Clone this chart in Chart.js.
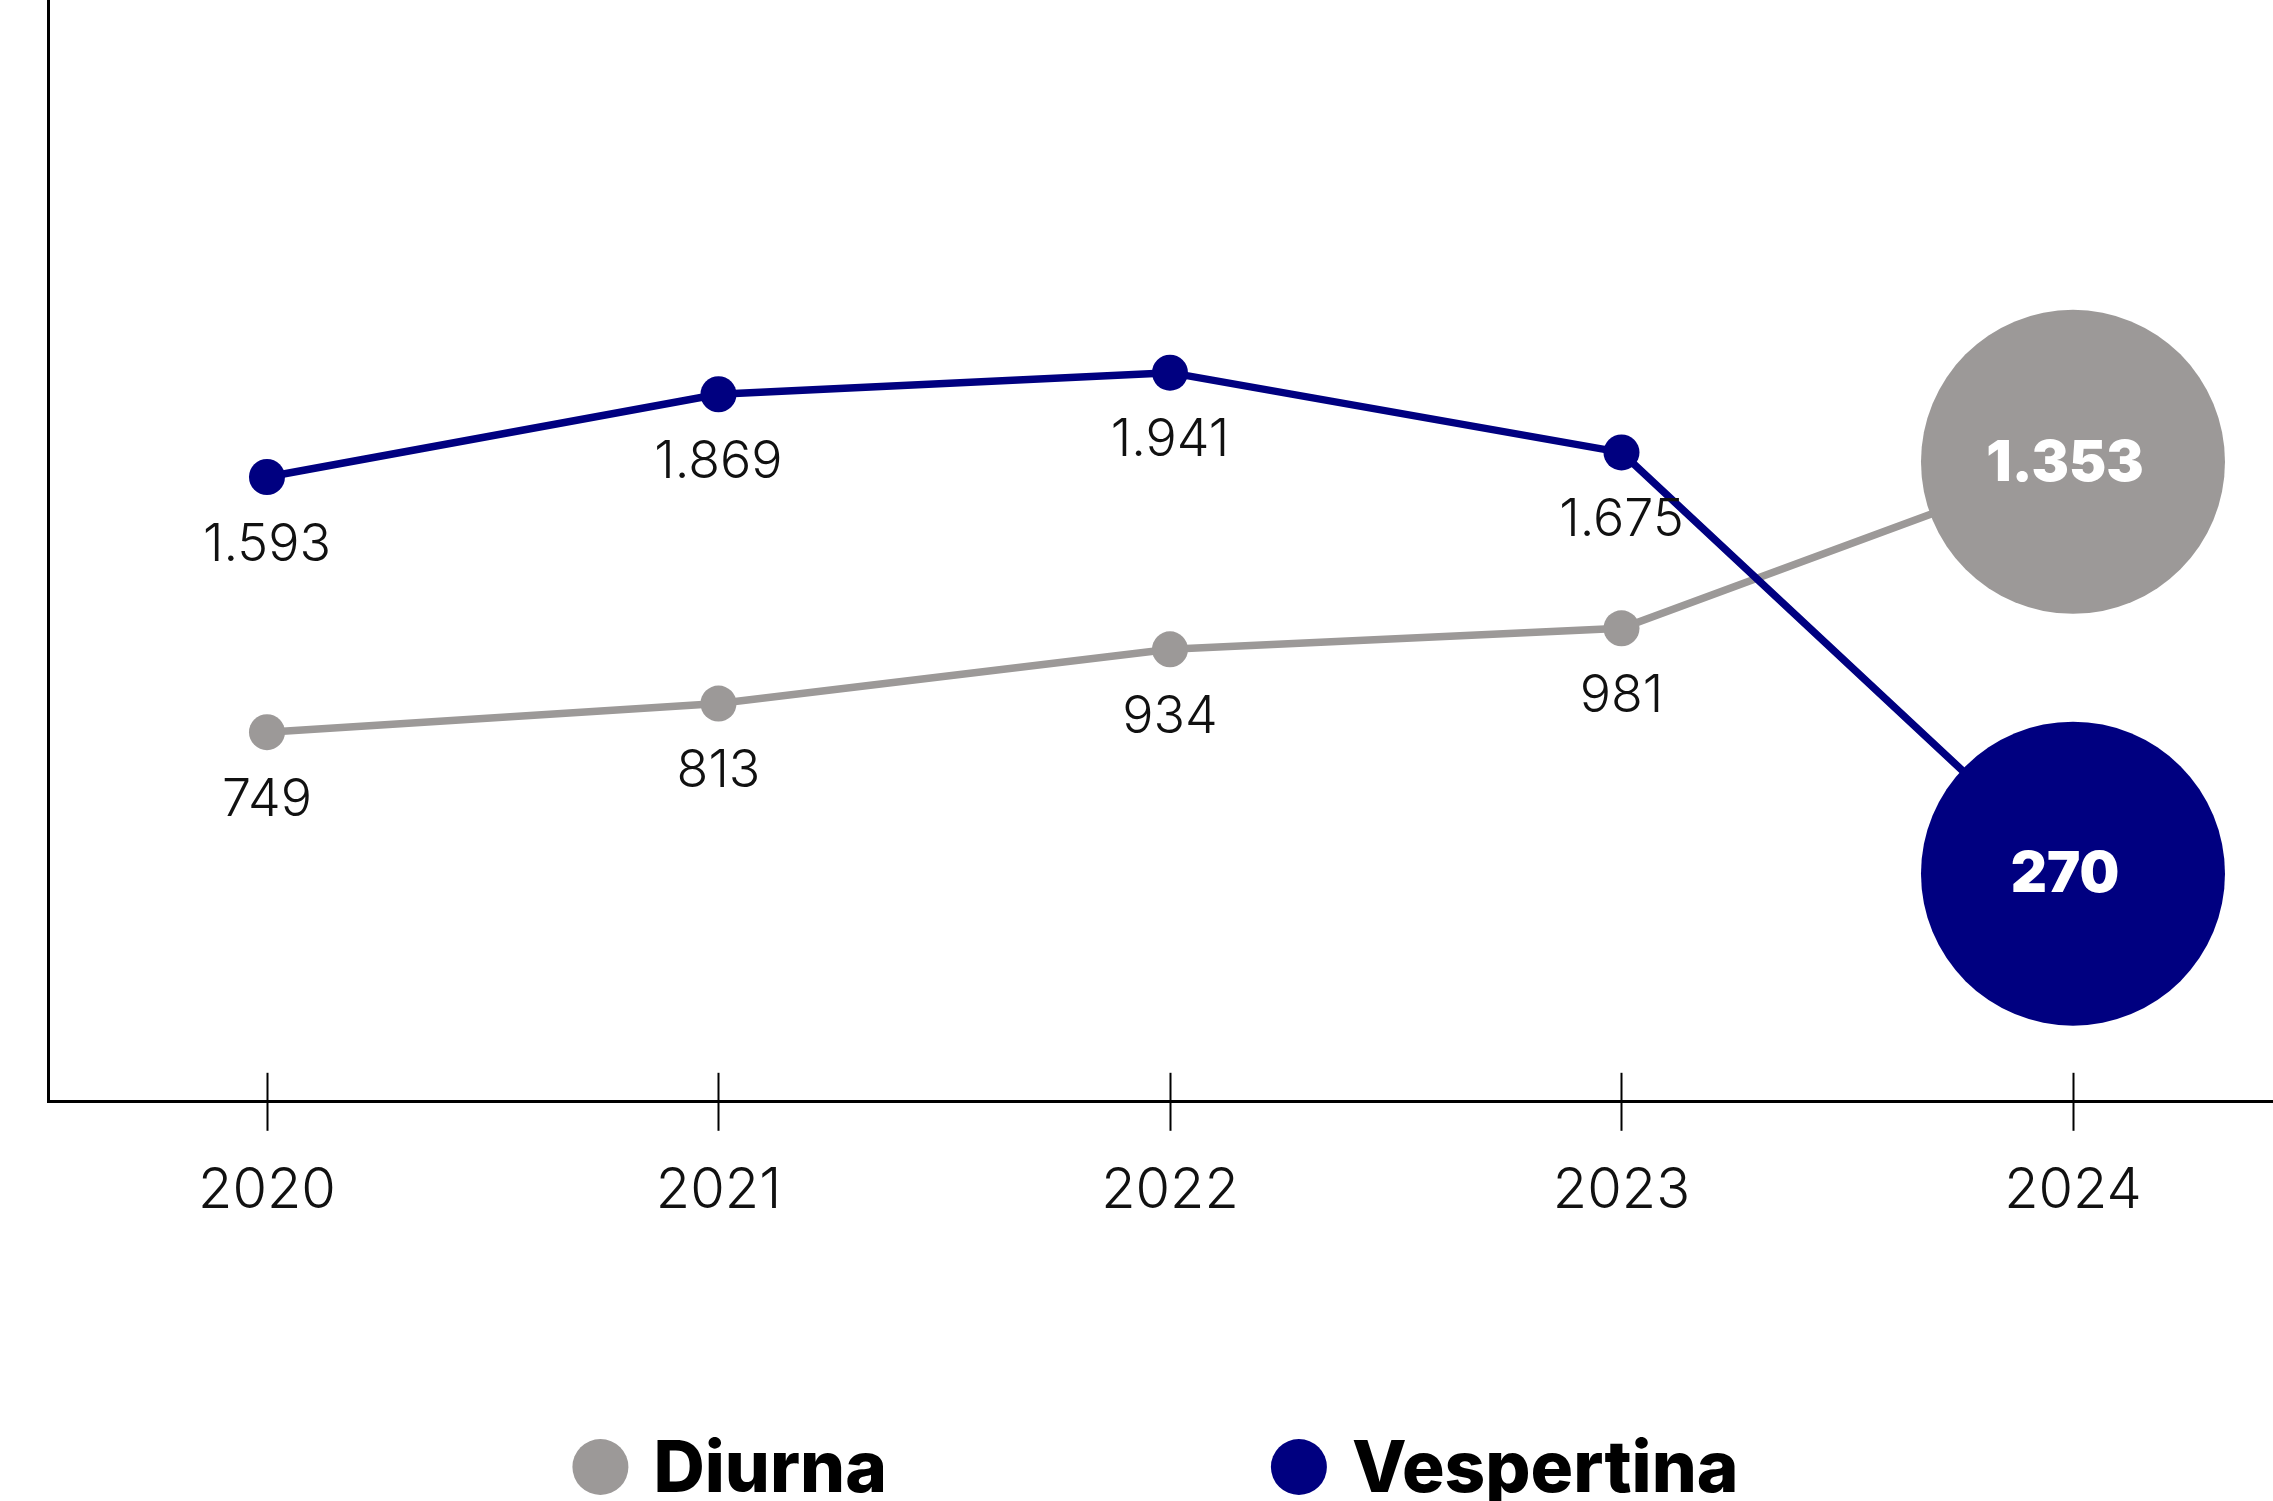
<!DOCTYPE html>
<html>
<head>
<meta charset="utf-8">
<script src="https://cdn.jsdelivr.net/npm/chart.js@4.4.1/dist/chart.umd.min.js"></script>
<style>
  html, body { margin: 0; padding: 0; background: #fff; }
  #wrap { width: 2273px; height: 1501px; position: relative; }
</style>
</head>
<body>
<div id="wrap"><canvas id="chart"></canvas></div>
<script>
/* DATA */
const YEARS = [2020, 2021, 2022, 2023, 2024];
const DIURNA = [749, 813, 934, 981, 1353];
const VESPERTINA = [1593, 1869, 1941, 1675, 270];

/* STYLE */
const GREY = '#9c9998';
const NAVY = '#000080';
const FONT = "Inter, 'Open Sans', sans-serif";

const lastIdx = YEARS.length - 1;
const fmtThousands = v => String(v).replace(/\B(?=(\d{3})+(?!\d))/g, '.');
const toPoints = vals => YEARS.map((yr, i) => ({ x: yr, y: vals[i] }));
// small dots, big bubble on the last year
const radii = YEARS.map((_, i) => i === lastIdx ? 152 : 18);

/* ticks that cross the x axis line */
const crossTicks = {
  id: 'crossTicks',
  afterDraw(chart) {
    const { ctx, chartArea } = chart;
    const x = chart.scales.x;
    ctx.save();
    ctx.strokeStyle = '#000';
    ctx.lineWidth = 2;
    x.ticks.forEach(t => {
      const px = Math.round(x.getPixelForValue(t.value)) + 0.5;
      ctx.beginPath();
      ctx.moveTo(px, chartArea.bottom - 29);
      ctx.lineTo(px, chartArea.bottom + 29);
      ctx.stroke();
    });
    ctx.restore();
  }
};

/* value labels: under the dots, inside the bubbles */
const valueLabels = {
  id: 'valueLabels',
  afterDatasetsDraw(chart) {
    const { ctx } = chart;
    ctx.save();
    ctx.textAlign = 'center';
    ctx.textBaseline = 'middle';
    chart.data.datasets.forEach((ds, di) => {
      chart.getDatasetMeta(di).data.forEach((pt, i) => {
        const txt = fmtThousands(ds.data[i].y);
        if (i === lastIdx) {
          ctx.font = `900 56px ${FONT}`;
          ctx.fillStyle = '#fff';
          ctx.fillText(txt, pt.x - 8, pt.y + 2);
        } else {
          ctx.font = `300 52px ${FONT}`;
          ctx.fillStyle = '#111';
          ctx.fillText(txt, pt.x, pt.y + 68);
        }
      });
    });
    ctx.restore();
  }
};

/* legend row at the bottom (partly cut by the canvas edge) */
const bottomLegend = {
  id: 'bottomLegend',
  afterDraw(chart) {
    const { ctx, chartArea } = chart;
    const r = 28, textGap = 25, itemGap = 384;
    ctx.save();
    ctx.font = `800 71px ${FONT}`;
    ctx.textAlign = 'left';
    ctx.textBaseline = 'alphabetic';
    const items = chart.data.datasets.map(ds => ({
      label: ds.label,
      color: ds.borderColor,
      w: 2 * r + textGap + ctx.measureText(ds.label).width
    }));
    const total = items.reduce((s, it) => s + it.w, 0) + itemGap * (items.length - 1);
    let x = (chartArea.left + chartArea.right) / 2 - total / 2 - 5;
    const cy = chart.height - 34;
    items.forEach(it => {
      ctx.fillStyle = it.color;
      ctx.beginPath();
      ctx.arc(x + r, cy, r, 0, Math.PI * 2);
      ctx.fill();
      ctx.fillStyle = '#000';
      ctx.fillText(it.label, x + 2 * r + textGap, chart.height - 9);
      x += it.w + itemGap;
    });
    ctx.restore();
  }
};

const lineSet = (label, vals, color, axis, order) => ({
  label,
  data: toPoints(vals),
  yAxisID: axis,
  order,
  borderColor: color,
  backgroundColor: color,
  pointBackgroundColor: color,
  pointBorderWidth: 0,
  pointRadius: radii,
  pointHoverRadius: radii,
  borderWidth: 7.5,
  tension: 0,
  fill: false,
  clip: false
});

new Chart(document.getElementById('chart'), {
  type: 'line',
  data: {
    datasets: [
      lineSet('Diurna', DIURNA, GREY, 'yD', 1),
      lineSet('Vespertina', VESPERTINA, NAVY, 'yV', 0)
    ]
  },
  options: {
    responsive: true,
    maintainAspectRatio: false,
    animation: false,
    events: [],
    layout: { autoPadding: false, padding: { left: 48, right: 0, top: 0, bottom: 220 } },
    plugins: { legend: { display: false }, tooltip: { enabled: false } },
    scales: {
      x: {
        type: 'linear',
        position: 'bottom',
        min: 2019.515,
        max: 2024.443,
        afterBuildTicks: s => { s.ticks = YEARS.map(v => ({ value: v })); },
        grid: { display: false, drawTicks: false },
        border: { display: true, color: '#000', width: 3 },
        ticks: {
          color: '#111',
          font: { family: FONT, size: 56, weight: 300 },
          padding: 56,
          maxRotation: 0,
          autoSkip: false,
          callback: v => String(v)
        }
      },
      // the picture is not to one scale: each series gets its own hidden axis
      yD: {
        type: 'linear',
        position: 'left',
        min: -77,
        max: 2385,
        grid: { display: false, drawTicks: false },
        ticks: { display: false },
        border: { display: true, color: '#000', width: 3 }
      },
      yV: {
        type: 'linear',
        position: 'left',
        min: -491,
        max: 3184,
        display: false
      }
    }
  },
  plugins: [crossTicks, valueLabels, bottomLegend]
});
</script>
</body>
</html>
